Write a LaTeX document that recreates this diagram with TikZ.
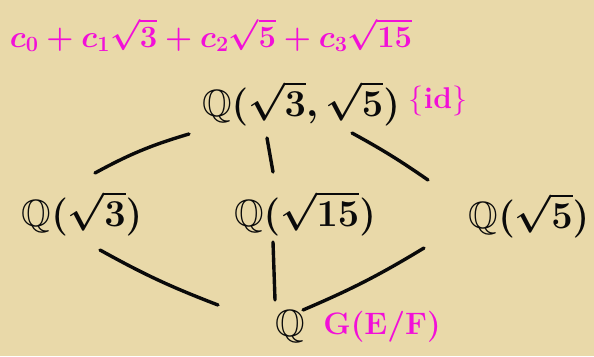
\RequirePackage{fix-cm}
\documentclass[tikz,border=0pt]{standalone}
\usepackage{amssymb}
\usepackage{tikz}
\usetikzlibrary{positioning}
\definecolor{pergamino}{HTML}{E9D9A9}
\definecolor{magenta}{HTML}{F20FD8}
\definecolor{tinta}{HTML}{0A0A0A}

\begin{document}
\begin{tikzpicture}[
    x=1pt, y=-1pt,
    campo/.style={inner sep=0pt, text=tinta, font=\fontsize{38}{44}\selectfont\boldmath},
    nota/.style={inner sep=0pt, text=magenta, font=\fontsize{31}{37}\selectfont\boldmath},
    linea/.style={line width=3.4pt, line cap=round, draw=tinta}
  ]
    \fill[pergamino] (0,0) rectangle (594,356);
    \useasboundingbox (0,0) rectangle (594,356);

    \node[nota] (base) at (211,35) {$c_0+c_1\sqrt{3}+c_2\sqrt{5}+c_3\sqrt{15}$};
    \node[campo] (top) at (301,103) {$\mathbb{Q}(\sqrt{3},\sqrt{5})$};
    \node[nota, font=\fontsize{30}{36}\selectfont\bfseries] (id) at (438,101) {$\{$id$\}$};
    \node[campo] (q3) at (82,213) {$\mathbb{Q}(\sqrt{3})$};
    \node[campo] (q15) at (305,213) {$\mathbb{Q}(\sqrt{15})$};
    \node[campo] (q5) at (529,215) {$\mathbb{Q}(\sqrt{5})$};
    \node[campo] (q) at (290,327) {$\mathbb{Q}$};
    \node[nota] (gal) at (382,327) {$\mathbf{G(E/F)}$};

    % lineas del retículo
    \draw[linea] ([shift={(-112,31)}]top.center) to[bend right=6] ([shift={(13,-40)}]q3.center);
    \draw[linea] ([shift={(-34,35)}]top.center) -- ([shift={(-32,-41)}]q15.center);
    \draw[linea] ([shift={(51,30)}]top.center) to[bend left=3] ([shift={(-101,-35)}]q5.center);
    \draw[linea] ([shift={(18,37)}]q3.center) to[bend right=4] ([shift={(-72,-22)}]q.center);
    \draw[linea] ([shift={(-32,29)}]q15.center) -- ([shift={(-15,-27)}]q.center);
    \draw[linea] ([shift={(-105,33)}]q5.center) to[bend left=4] ([shift={(13,-17)}]q.center);
\end{tikzpicture}
\end{document}
